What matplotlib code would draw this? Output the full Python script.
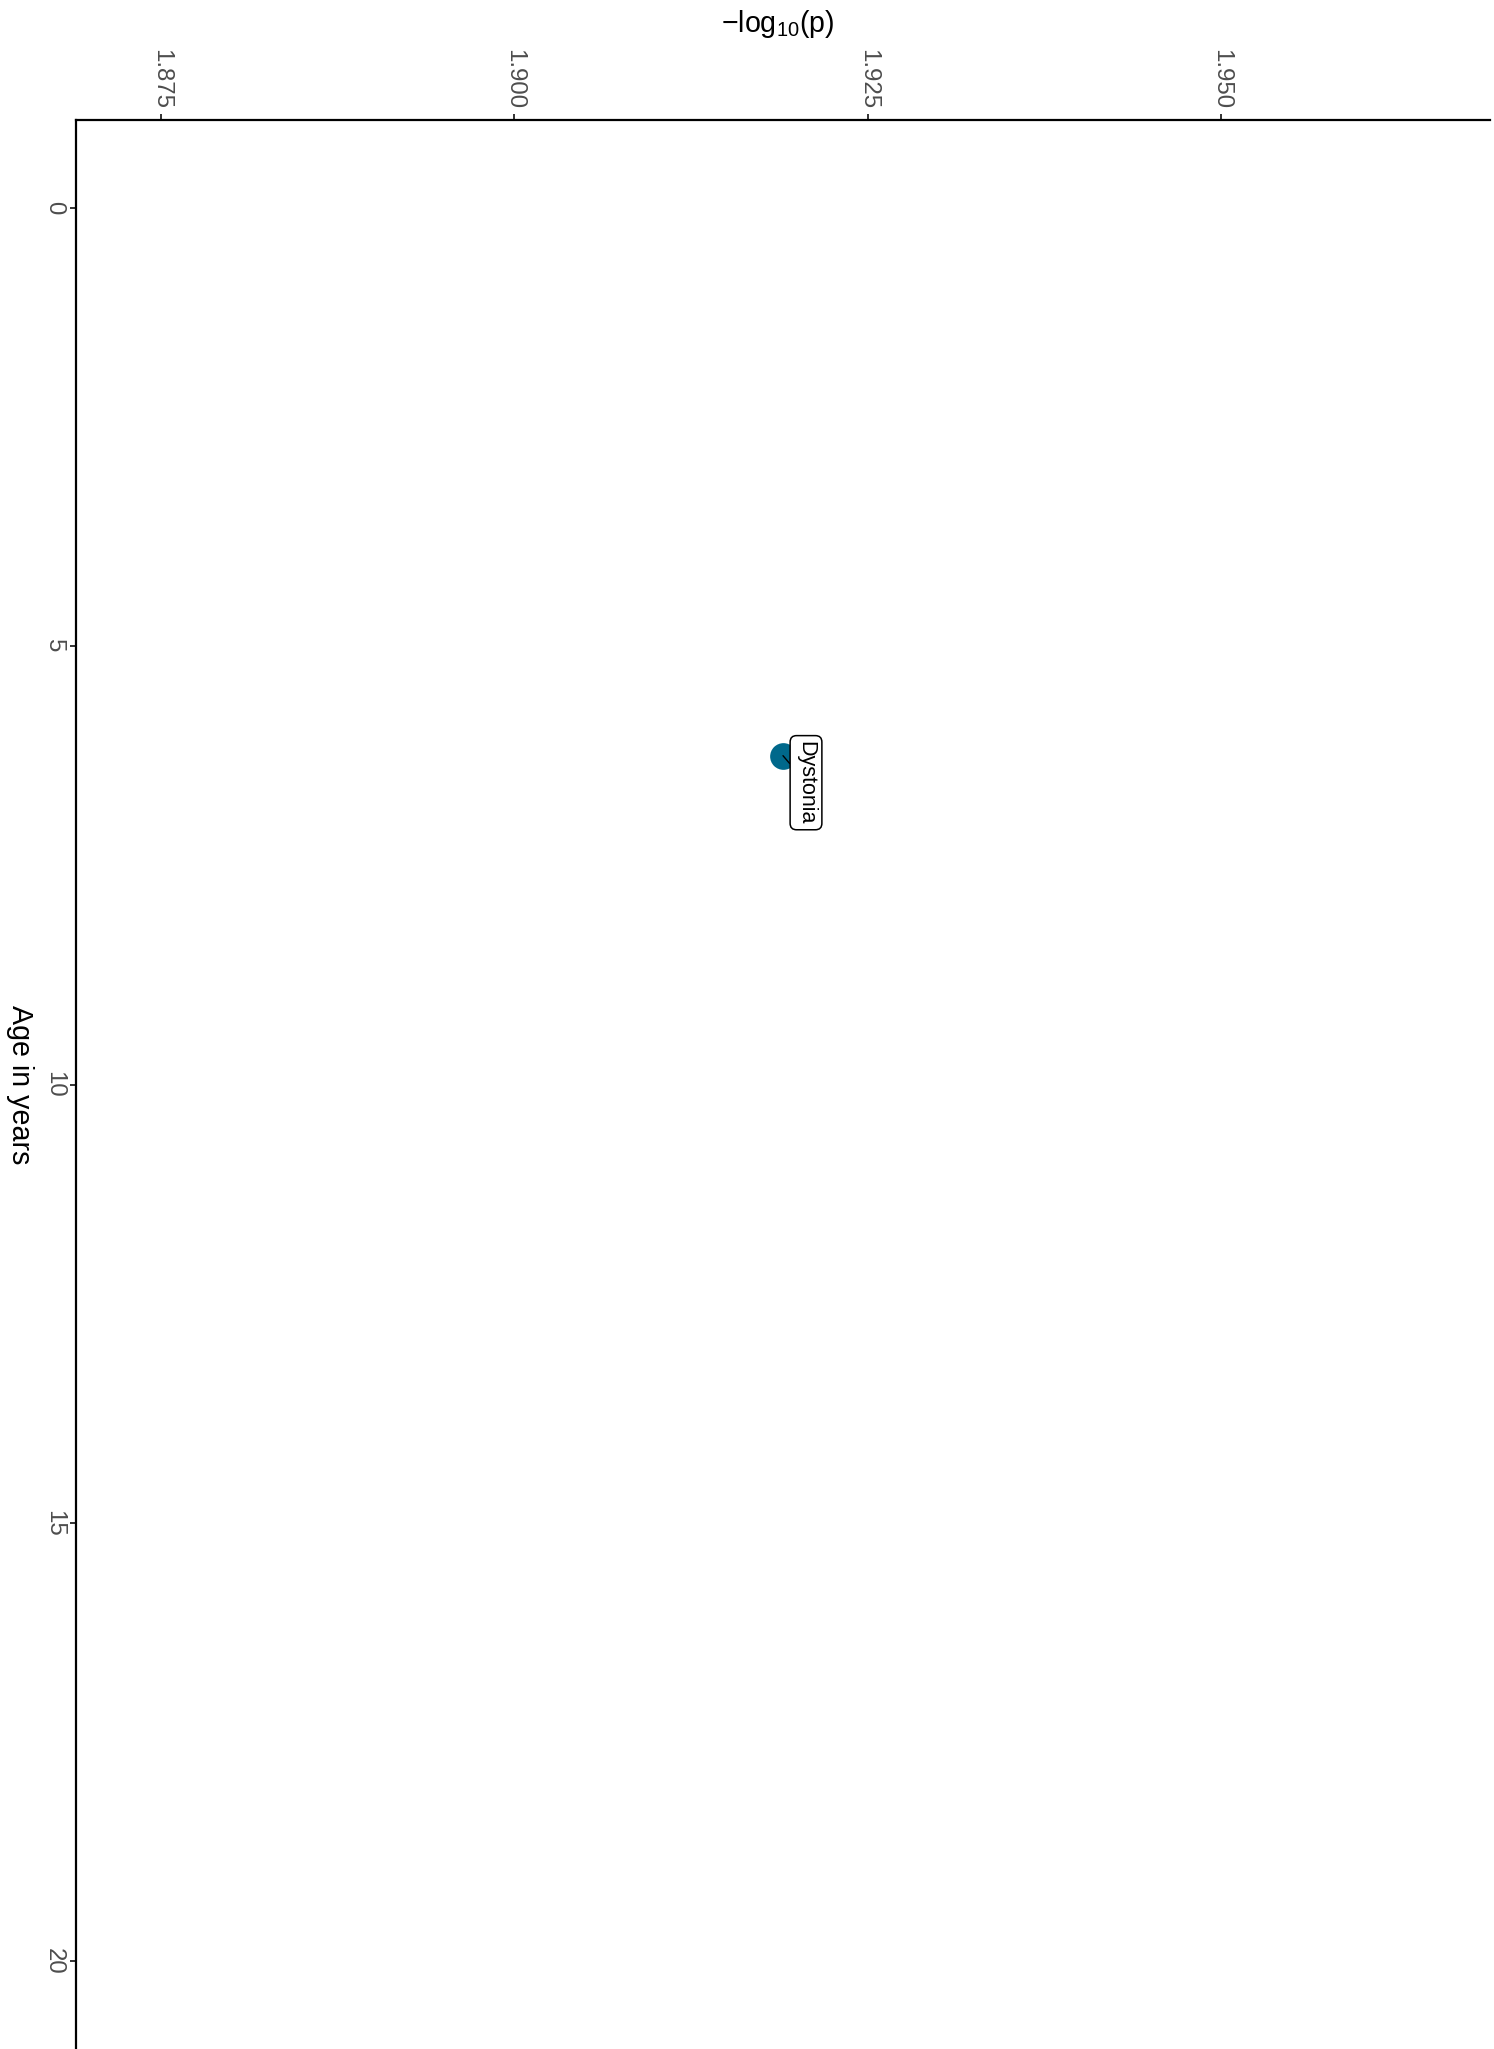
import matplotlib as mpl
mpl.use('Agg')
import matplotlib.pyplot as plt

plt.rcParams['font.family'] = ['Liberation Sans', 'DejaVu Sans']
plt.rcParams['mathtext.default'] = 'regular'

# one significant phenotype
terms = ['Dystonia']
neg_log_p = [1.919]
age_years = [6.25]

x_ticks = [1.875, 1.900, 1.925, 1.950]
y_ticks = [0, 5, 10, 15, 20]

POINT_COLOR = '#00688B'

fig = plt.figure(figsize=(14.94, 20.49), dpi=100)
ax = fig.add_axes([76 / 1494, 0.0, (1490 - 76) / 1494, 1 - 120 / 2049])

ax.scatter(neg_log_p, age_years, s=370, color=POINT_COLOR, zorder=3, linewidths=0)

for term, x, y in zip(terms, neg_log_p, age_years):
  ax.annotate(term, xy=(x, y), xytext=(23, -27), textcoords='offset pixels',
              rotation=-90, ha='center', va='center', fontsize=15.5,
              bbox=dict(boxstyle='round,pad=0.25,rounding_size=0.3',
                        fc='white', ec='black', lw=1.1),
              arrowprops=dict(arrowstyle='-', color='black', lw=1.0,
                              shrinkA=0, shrinkB=0),
              zorder=4)

ax.set_xlim(1.869, 1.969)
ax.set_ylim(21, -1)
ax.set_xticks(x_ticks)
ax.set_xticklabels(['%.3f' % v for v in x_ticks])
ax.set_yticks(y_ticks)

ax.xaxis.tick_top()
ax.xaxis.set_label_position('top')
for side in ['right', 'bottom']:
  ax.spines[side].set_visible(False)
for side in ['top', 'left']:
  ax.spines[side].set_linewidth(1.6)
  ax.spines[side].set_color('black')

ax.tick_params(axis='both', length=4, width=1.4, color='#333333',
               labelcolor='#4D4D4D', labelsize=17.3, pad=4)
for lab in ax.get_xticklabels() + ax.get_yticklabels():
  lab.set_rotation(-90)
for lab in ax.get_xticklabels():
  lab.set_va('bottom')
  lab.set_ha('center')
for lab in ax.get_yticklabels():
  lab.set_va('center')
  lab.set_ha('right')

ax.set_xlabel('\u2212log$_{10}$(p)', fontsize=20.6)
ax.xaxis.set_label_coords((778 - 76) / 1414, 1 + (120 - 24) / 1929)
ax.xaxis.label.set_va('center')

ax.set_ylabel('Age in years', fontsize=20.6, rotation=-90)
ax.yaxis.set_label_coords((20 - 76) / 1414, 0.5)
ax.yaxis.label.set_va('center')
ax.yaxis.label.set_ha('center')

fig.savefig('out.png', dpi=100)
plt.close(fig)
